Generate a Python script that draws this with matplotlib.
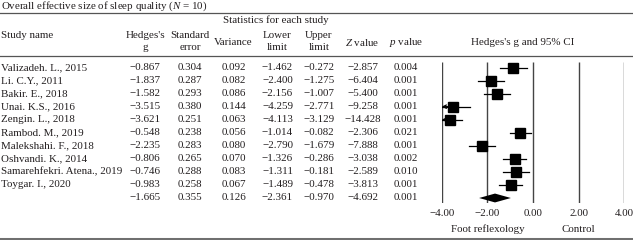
import matplotlib.pyplot as plt
import matplotlib.transforms as mtransforms

plt.rcParams['font.family'] = ['Liberation Serif', 'DejaVu Serif']
plt.rcParams['mathtext.fontset'] = 'custom'
plt.rcParams['mathtext.rm'] = 'Liberation Serif'
plt.rcParams['mathtext.it'] = 'Liberation Serif:italic'

studies = ["Valizadeh. L., 2015", "Li. C.Y., 2011", "Bakir. E., 2018", "Unai. K.S., 2016",
           "Zengin. L., 2018", "Rambod. M., 2019", "Malekshahi. F., 2018", "Oshvandi. K., 2014",
           "Samarehfekri. Atena., 2019", "Toygar. I., 2020"]
hedges_g = [-0.867, -1.837, -1.582, -3.515, -3.621, -0.548, -2.235, -0.806, -0.746, -0.983]
std_err = [0.304, 0.287, 0.293, 0.380, 0.251, 0.238, 0.283, 0.265, 0.288, 0.258]
variance = [0.092, 0.082, 0.086, 0.144, 0.063, 0.056, 0.080, 0.070, 0.083, 0.067]
lower = [-1.462, -2.400, -2.156, -4.259, -4.113, -1.014, -2.790, -1.326, -1.311, -1.489]
upper = [-0.272, -1.275, -1.007, -2.771, -3.129, -0.082, -1.679, -0.286, -0.181, -0.478]
z_value = [-2.857, -6.404, -5.400, -9.258, -14.428, -2.306, -7.888, -3.038, -2.589, -3.813]
p_value = [0.004, 0.001, 0.001, 0.001, 0.001, 0.021, 0.001, 0.002, 0.010, 0.001]

summary = dict(g=-1.665, se=0.355, var=0.126, lo=-2.361, hi=-0.970, z=-4.692, p=0.001)
xticks = [-4, -2, 0, 2, 4]

W, H = 633, 240
fig = plt.figure(figsize=(W / 100, H / 100), dpi=100)
txt = '#231f20'
fs = 7.9


def fx(px):
    return px / W


def fy(py):
    return 1 - py / H


def num(v, d=3):
    s = f"{abs(v):.{d}f}"
    return ("\u2212" + s) if v < 0 else s


# title and rules
fig.text(fx(1), fy(5.8), "Overall effective size of sleep quality ($\\it{N}$ = 10)", fontsize=fs, color=txt,
         va='center', ha='left')
for py, lw, c in [(12.5, 0.9, '#555555'), (56, 0.9, '#555555'), (238.5, 2.2, '#707070')]:
    fig.add_artist(plt.Line2D([0, 1], [fy(py), fy(py)], color=c, lw=lw, transform=fig.transFigure))

# headers
fig.text(fx(276), fy(20.5), "Statistics for each study", fontsize=fs, color=txt, ha='center', va='center')
fig.text(fx(1), fy(35), "Study name", fontsize=fs, color=txt, ha='left', va='center')
cols = [145, 190, 233.5, 277.5, 319, 362.5, 406]
heads = [("Hedges's", "g"), ("Standard", "error"), ("Variance",), ("Lower", "limit"),
         ("Upper", "limit"), ("$\\it{Z}$ value",), ("$\\it{p}$ value",)]
for cx, h in zip(cols, heads):
    if len(h) == 2:
        fig.text(fx(cx), fy(35), h[0], fontsize=fs, color=txt, ha='center', va='center')
        fig.text(fx(cx), fy(48), h[1], fontsize=fs, color=txt, ha='center', va='center')
    else:
        fig.text(fx(cx), fy(42.5), h[0], fontsize=fs, color=txt, ha='center', va='center')
fig.text(fx(523), fy(42.5), "Hedges's g and 95% CI", fontsize=fs, color=txt, ha='center', va='center')

# table rows
row0, dy = 67.5, 13.05
n = len(studies)
for i in range(n + 1):
    py = row0 + i * dy
    if i < n:
        vals = [num(hedges_g[i]), num(std_err[i]), num(variance[i]), num(lower[i]),
                num(upper[i]), num(z_value[i]), num(p_value[i])]
        fig.text(fx(1), fy(py), studies[i], fontsize=fs, color=txt, ha='left', va='center')
    else:
        s = summary
        vals = [num(s['g']), num(s['se']), num(s['var']), num(s['lo']), num(s['hi']), num(s['z']), num(s['p'])]
    for cx, v in zip(cols, vals):
        fig.text(fx(cx), fy(py), v, fontsize=fs, color=txt, ha='center', va='center')

# forest plot axes
x0, x1 = 441.7, 624.3
top_px, bot_px = 61.5, 203
ax = fig.add_axes([fx(x0), fy(bot_px), fx(x1 - x0), (bot_px - top_px) / H])
ax.set_xlim(-4, 4)
ax.set_ylim((bot_px - row0) / dy, (top_px - row0) / dy)
for s in ax.spines.values():
    s.set_visible(False)
ax.set_yticks([])
ax.set_xticks(xticks)
ax.set_xticklabels([num(t, 2) for t in xticks], fontsize=fs, color=txt)
ax.tick_params(axis='x', length=0, pad=4)
ax.patch.set_alpha(0)
ax.vlines(xticks, *ax.get_ylim(), color='#444444', lw=1.0)

for i in range(n):
    lo = max(lower[i], -4)
    ax.plot([lo, upper[i]], [i, i], color='black', lw=0.9, zorder=3)
    if lower[i] < -4:
        ax.annotate('', xy=(-4, i), xytext=(lo + 0.35, i),
                    arrowprops=dict(arrowstyle='->', lw=0.9, color='black',
                                    mutation_scale=6, shrinkA=0, shrinkB=0), zorder=3)
    ax.plot(hedges_g[i], i, marker='s', ms=7.2, color='black', zorder=4)

s = summary
dh = 0.34
ax.fill([s['lo'], s['g'], s['hi'], s['g']], [n, n - dh, n, n + dh], color='black', zorder=4, lw=0)

blend = mtransforms.blended_transform_factory(ax.transData, fig.transFigure)
ax.text(-2, fy(229.5), "Foot reflexology", transform=blend, fontsize=fs, color=txt, ha='center', va='center')
ax.text(2, fy(229.5), "Control", transform=blend, fontsize=fs, color=txt, ha='center', va='center')

fig.savefig("out.png", dpi=100)
